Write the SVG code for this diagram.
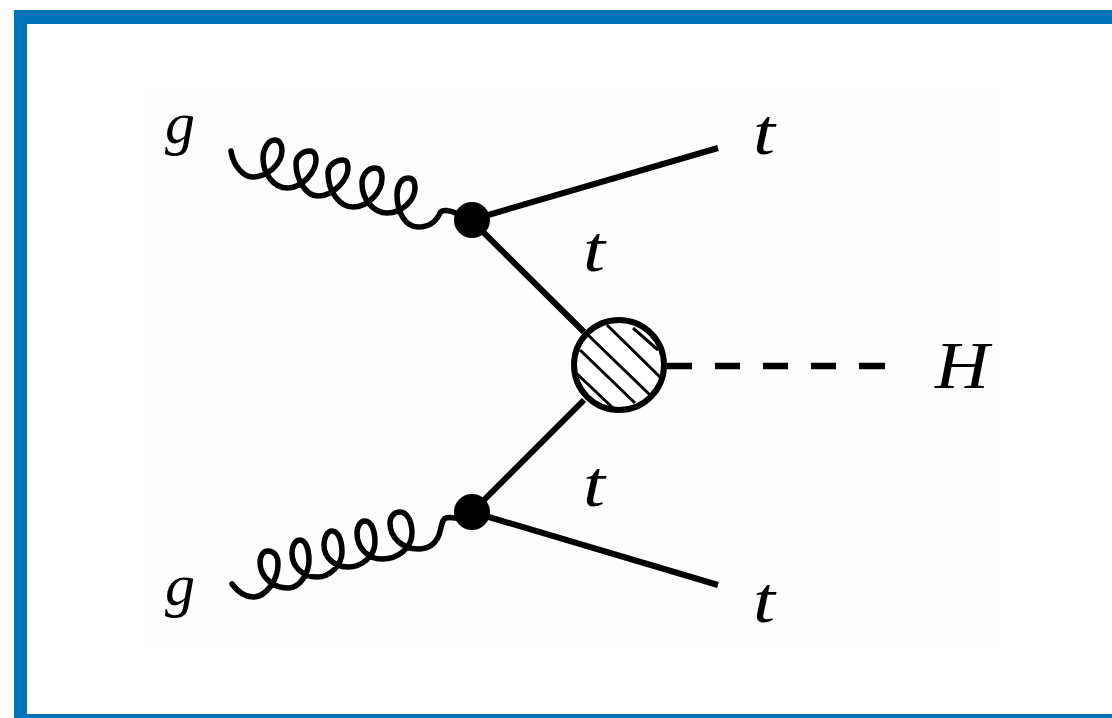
<svg xmlns="http://www.w3.org/2000/svg" width="1112" height="718" viewBox="0 0 1112 718">
<style>
.l{fill:none;stroke:#000;stroke-width:6;stroke-linecap:butt}
.da{fill:none;stroke:#000;stroke-width:6.5;stroke-linecap:butt}
.g{fill:none;stroke:#000;stroke-width:5.5;stroke-linecap:round;stroke-linejoin:round}
.h{fill:none;stroke:#000;stroke-width:3}
.d{fill:#000}
text{font-family:"Liberation Serif","DejaVu Serif",serif;font-style:italic;fill:#000}
.lg{font-size:60px}
.lt{font-size:66px}
.lh{font-size:68px}
</style>
<rect width="1112" height="718" fill="#fff"/>
<rect x="143" y="85" width="855" height="565" fill="#fefefe"/>
<path d="M14 718V10H1112V24H27V714H1112V718Z" fill="#0074bb"/>
<g id="connectors">
<path id="gluon-top" class="g" d="M231 151C233 165 243 177 253 177C266 177 282 165 282 150C282 144 279 140 275 140C268 140 263 149 263 158C263 175 275 188 287 188C302 188 316 172 316 160C316 155 314 151 310 151C302 151 296 157 296 163C296 180 306 196 318 196C333 196 348 180 348 168C348 163 347 160 343 160C335 160 328 166 328 173C328 192 340 207 353 207C368 207 382 192 382 178C382 172 380 168 375 168C368 168 362 175 362 183C362 200 374 213 387 213C402 213 415 200 415 188C415 182 413 178 408 178C401 178 397 186 397 195C397 213 406 227 418 227C428 227 436 222 440 213C442 209 450 210 458 214"/>
<path id="gluon-bottom" class="g" d="M232 584C238 592 245 597 253 597C266 597 278 580 278 564C278 556 274 551 268 551C263 551 260 556 260 562C260 577 273 588 288 588C300 588 309 573 309 560C309 548 305 540 300 540C295 540 292 546 292 553C292 567 303 577 317 577C330 577 342 565 342 552C342 540 338 531 332 531C327 531 324 538 324 545C324 558 335 567 348 567C362 567 375 556 375 542C375 530 371 521 365 521C360 521 357 527 357 533C357 548 368 559 382 559C398 559 412 548 412 533C412 521 407 512 400 512C394 512 390 517 390 523C390 538 403 549 418 549C428 549 435 545 439 535C442 525 442 519 446 518C450 517 452 518 456 518"/>
<path class="l" d="M471 220L718 148M471 220L584 332"/>
<path class="l" d="M472 512L718 585M472 512L584 400"/>
<path class="da" d="M667 366H692M715 366H740M763 366H788M811 366H836M859 366H885"/>
</g>
<g id="vertex-top"><circle class="d" cx="472" cy="220" r="18"/></g>
<g id="vertex-bottom"><circle class="d" cx="472" cy="512" r="18"/></g>
<g id="blob">
<circle cx="619" cy="365" r="45" fill="#fff" stroke="#000" stroke-width="6"/>
<path class="h" d="M607 325L660 377M586 333L650 395M580 350L635 403M575 372L613 408M633 328L658 350"/>
</g>
<g id="labels">
<text class="lg" x="165" y="143">g</text>
<text class="lg" x="165" y="605">g</text>
<text class="lt" x="753" y="154" textLength="22" lengthAdjust="spacingAndGlyphs">t</text>
<text class="lt" x="753" y="622" textLength="22" lengthAdjust="spacingAndGlyphs">t</text>
<text class="lt" x="583" y="271" textLength="22" lengthAdjust="spacingAndGlyphs">t</text>
<text class="lt" x="583" y="506" textLength="22" lengthAdjust="spacingAndGlyphs">t</text>
<text class="lh" x="935" y="388" textLength="54" lengthAdjust="spacingAndGlyphs">H</text>
</g>
</svg>
